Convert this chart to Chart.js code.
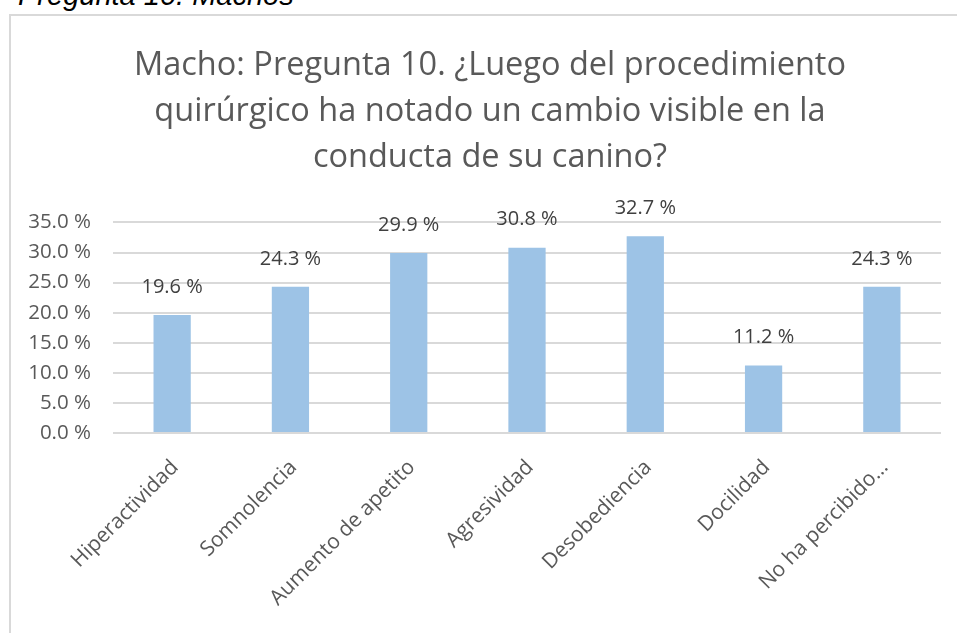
<!DOCTYPE html>
<html>
<head>
<meta charset="utf-8">
<script src="https://cdn.jsdelivr.net/npm/chart.js@4.4.1/dist/chart.umd.min.js"></script>
<style>
body { margin: 0; background: #fff; width: 957px; height: 633px; overflow: hidden; position: relative; }
#caption { position: absolute; left: 18px; top: -19px; font-family: "Liberation Sans", Arial, sans-serif; font-style: italic; font-size: 29px; line-height: 29px; color: #000; white-space: nowrap; }
#box { position: absolute; left: 9px; top: 14px; width: 960px; height: 640px; border-left: 2px solid #d9d9d9; border-top: 2px solid #d9d9d9; }
#wrap { position: absolute; left: 11px; top: 16px; width: 958px; height: 617px; }
</style>
</head>
<body>
<div id="caption">Pregunta 10. Machos</div>
<div id="box"></div>
<div id="wrap"><canvas id="chart"></canvas></div>
<script>
var categories = ["Hiperactividad", "Somnolencia", "Aumento de apetito", "Agresividad", "Desobediencia", "Docilidad", "No ha percibido…"];
var percentages = [19.6, 24.3, 29.9, 30.8, 32.7, 11.2, 24.3];
var titleLines = ["Macho: Pregunta 10. ¿Luego del procedimiento", "quirúrgico ha notado un cambio visible en la", "conducta de su canino?"];
var yMax = 35;
var yStep = 5;

function pct(v) {
    return v.toFixed(1) + " %";
}

// value text above each bar
var barLabels = {
    id: "barLabels",
    afterDatasetsDraw: function (chart) {
        var ctx = chart.ctx;
        var meta = chart.getDatasetMeta(0);
        ctx.save();
        ctx.font = '20px "Open Sans"';
        ctx.fillStyle = "#404040";
        ctx.textAlign = "center";
        ctx.textBaseline = "middle";
        meta.data.forEach(function (bar, i) {
            ctx.fillText(pct(percentages[i]), bar.x, bar.y - 28);
        });
        ctx.restore();
    }
};

var ctx = document.getElementById("chart").getContext("2d");
new Chart(ctx, {
    type: "bar",
    data: {
        labels: categories,
        datasets: [{
            data: percentages,
            backgroundColor: "#9dc3e6",
            borderWidth: 0,
            barPercentage: 0.315,
            categoryPercentage: 1
        }]
    },
    options: {
        responsive: true,
        maintainAspectRatio: false,
        animation: false,
        layout: { padding: 0 },
        plugins: {
            legend: { display: false },
            tooltip: { enabled: false },
            title: {
                display: true,
                text: titleLines,
                color: "#595959",
                font: { family: "Open Sans", size: 32.5, weight: "normal", lineHeight: 1.43 },
                padding: { top: 26, bottom: 41 }
            }
        },
        scales: {
            y: {
                min: 0,
                max: yMax,
                ticks: {
                    stepSize: yStep,
                    color: "#595959",
                    font: { family: "Open Sans", size: 20.5 },
                    padding: 22,
                    callback: function (v) { return pct(v); }
                },
                grid: { color: "#d9d9d9", lineWidth: 2, drawTicks: false },
                border: { display: false },
                afterFit: function (scale) { scale.width = 102; }
            },
            // empty right-hand margin; the title still spans it
            spacer: {
                type: "linear",
                position: "right",
                ticks: { display: false },
                grid: { display: false },
                border: { display: false },
                afterFit: function (scale) { scale.width = 28; }
            },
            x: {
                ticks: {
                    color: "#595959",
                    font: { family: "Open Sans", size: 21 },
                    maxRotation: 45,
                    minRotation: 45,
                    autoSkip: false,
                    labelOffset: 3,
                    padding: 14
                },
                grid: { display: false },
                border: { display: false },
                afterFit: function (scale) { scale.height = 200; }
            }
        }
    },
    plugins: [barLabels]
});
</script>
</body>
</html>
